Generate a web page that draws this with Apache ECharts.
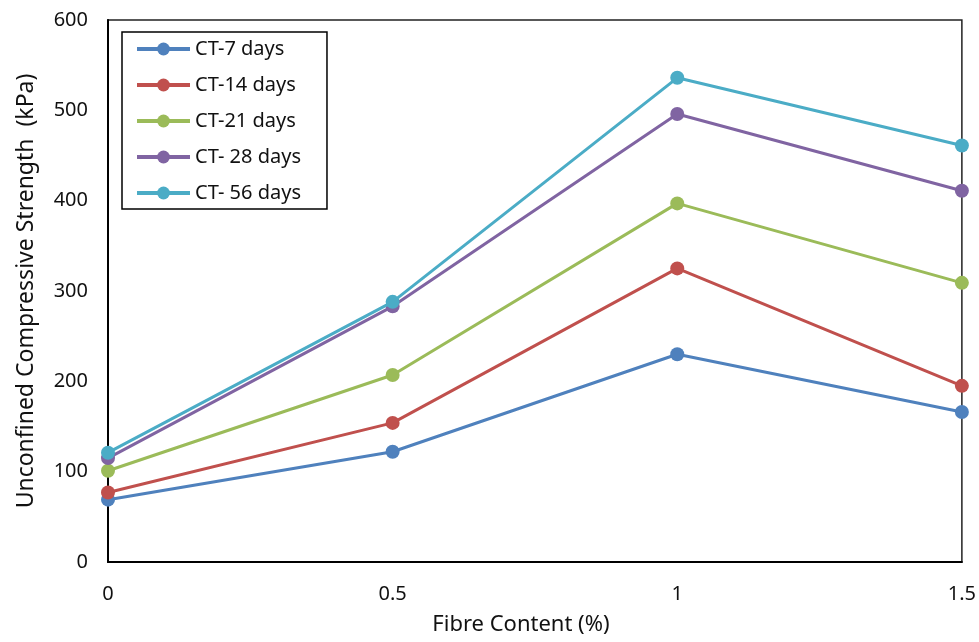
<!DOCTYPE html>
<html>
<head>
<meta charset="utf-8">
<script src="https://cdn.jsdelivr.net/npm/echarts@6/dist/echarts.min.js"></script>
<style>
  html, body { margin: 0; padding: 0; background: #fff; }
  #chart { width: 979px; height: 642px; }
</style>
</head>
<body>
<div id="chart"></div>
<script>
// fibre content (%)
const fibre = [0, 0.5, 1, 1.5];
const seriesNames = ['CT-7 days', 'CT-14 days', 'CT-21 days', 'CT- 28 days', 'CT- 56 days'];
const ct7 = [69, 122, 230, 166];
const ct14 = [77, 154, 325, 195];
const ct21 = [101, 207, 397, 309];
const ct28 = [115, 283, 496, 411];
const ct56 = [121, 288, 536, 461];
const colors = ['#4f81bd', '#c0504d', '#9bbb59', '#8064a2', '#4bacc6'];

const allData = [ct7, ct14, ct21, ct28, ct56];
const font = 'Noto Sans';

let series = [];
for (let i = 0; i < allData.length; i++) {
    series.push({
        name: seriesNames[i],
        type: 'line',
        data: fibre.map((x, j) => [x, allData[i][j]]),
        symbol: 'circle',
        symbolSize: 14,
        lineStyle: { width: 3, color: colors[i] },
        itemStyle: { color: colors[i] },
        emphasis: { disabled: true },
        z: 2 + i
    });
}

const chart = echarts.init(document.getElementById('chart'));
chart.setOption({
    animation: false,
    grid: {
        left: 108, right: 17, top: 20, bottom: 80,
        show: true, borderColor: '#222', borderWidth: 1.5
    },
    legend: {
        orient: 'vertical',
        left: 122, top: 32,
        padding: [7, 26, 6, 13],
        itemWidth: 53, itemHeight: 16,
        itemGap: 16,
        borderColor: '#000', borderWidth: 1.5,
        lineStyle: { width: 4 },
        textStyle: { fontFamily: font, fontSize: 20, color: '#111' },
        data: seriesNames
    },
    xAxis: {
        type: 'value',
        min: 0, max: 1.5, interval: 0.5,
        name: 'Fibre Content (%)',
        nameLocation: 'middle',
        nameGap: 52,
        nameTextStyle: { fontFamily: font, fontSize: 22, color: '#111', padding: [0, 28, 0, 0] },
        axisLine: { show: true, lineStyle: { color: '#000', width: 2 } },
        axisTick: { show: false },
        splitLine: { show: false },
        axisLabel: { fontFamily: font, fontSize: 20, color: '#111', margin: 22 }
    },
    yAxis: {
        type: 'value',
        min: 0, max: 600, interval: 100,
        name: 'Unconfined Compressive Strength  (kPa)',
        nameLocation: 'middle',
        nameGap: 70,
        nameTextStyle: { fontFamily: font, fontSize: 23, color: '#111' },
        axisLine: { show: true, lineStyle: { color: '#000', width: 2 } },
        axisTick: { show: false },
        splitLine: { show: false },
        axisLabel: { fontFamily: font, fontSize: 20, color: '#111', margin: 20 }
    },
    series: series
});
</script>
</body>
</html>
